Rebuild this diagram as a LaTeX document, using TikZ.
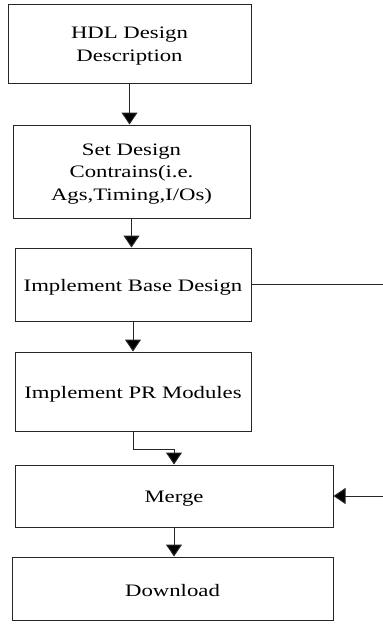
\documentclass[tikz,border=0pt]{standalone}
\usepackage{fontspec}
\setmainfont[FakeStretch=1.3]{Liberation Serif}
\usetikzlibrary{arrows.meta}
\begin{document}
\begin{tikzpicture}[x=1pt,y=-1pt,
  flowbox/.style={draw=black!85,line width=1pt,inner sep=0pt},
  flowtext/.style={inner sep=0pt,align=center,yshift=-2.5pt,
    font=\fontsize{17.5}{22.5}\selectfont},
  flowarrow/.style={draw=black!85,line width=1pt,-{Triangle[width=16pt,length=12pt,fill=black]}},
  flowline/.style={draw=black!85,line width=1pt}]
\useasboundingbox (0,0) rectangle (383,627);
\node[flowbox,minimum width=243pt,minimum height=79pt] (b1) at (129.5,43.5) {};
\node[flowbox,minimum width=237pt,minimum height=93pt] (b2) at (131.5,171.5) {};
\node[flowbox,minimum width=236pt,minimum height=73pt] (b3) at (133,284.5) {};
\node[flowbox,minimum width=236pt,minimum height=79pt] (b4) at (133,391.5) {};
\node[flowbox,minimum width=318pt,minimum height=62pt] (b5) at (174,496) {};
\node[flowbox,minimum width=321pt,minimum height=63pt] (b6) at (172.5,588.5) {};
\node[flowtext] (t1) at (b1.center) {HDL Design\\Description};
\node[flowtext] (t2) at (b2.center) {Set Design\\Contrains(i.e.\\Ags,Timing,I/Os)};
\node[flowtext] (t3) at (b3.center) {Implement Base Design};
\node[flowtext] (t4) at (b4.center) {Implement PR Modules};
\node[flowtext] (t5) at (b5.center) {Merge};
\node[flowtext] (t6) at (b6.center) {Download};
\coordinate (r3) at (383,284.5);
\coordinate (r5) at (383,496);
\coordinate (k1) at (133,449);
\coordinate (k2) at (174,449);
\draw[flowarrow] (b1.south) -- (b1.south |- b2.north);
\draw[flowarrow] (b2.south) -- (b2.south |- b3.north);
\draw[flowarrow] (b3.south) -- (b3.south |- b4.north);
\draw[flowarrow] (b4.south) -- (k1) -- (k2) -- (b5.north);
\draw[flowarrow] (b5.south) -- (b5.south |- b6.north);
\draw[flowline] (b3.east) -- (r3);
\draw[flowarrow] (r5) -- (b5.east);
\end{tikzpicture}
\end{document}
